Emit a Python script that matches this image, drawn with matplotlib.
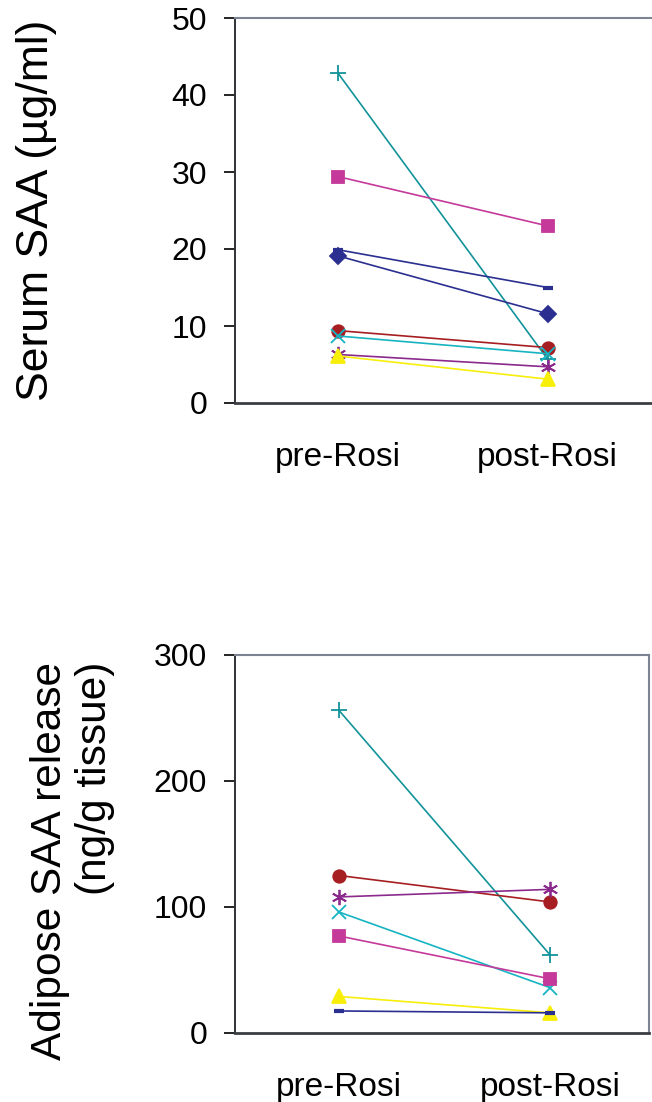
import matplotlib
matplotlib.use("Agg")
import matplotlib.pyplot as plt

plt.rcParams['font.family'] = ['Liberation Sans', 'DejaVu Sans']

groups = ['pre-Rosi', 'post-Rosi']

# serum SAA (ug/ml), one subject per series
serum_plus = [42.8, 5.7]
serum_square = [29.4, 23.0]
serum_dash = [19.9, 15.0]
serum_diamond = [19.1, 11.6]
serum_circle = [9.4, 7.2]
serum_x = [8.7, 6.4]
serum_star = [6.3, 4.7]
serum_tri = [6.1, 3.1]

# adipose SAA release (ng/g tissue)
adip_plus = [256, 62]
adip_circle = [125, 104]
adip_star = [108, 114]
adip_x = [96, 36]
adip_square = [77, 43]
adip_tri = [29, 16]
adip_dash = [17.5, 16]

teal = '#12939A'
magenta = '#C4399A'
navy = '#2B2F8F'
red = '#A61E22'
cyan = '#16B4C2'
purple = '#8B2A8C'
yellow = '#F7EE0A'

star = (6, 2, 0)

serum = [
    (serum_plus, teal, '+', 12),
    (serum_square, magenta, 's', 9),
    (serum_dash, navy, '_', 7),
    (serum_diamond, navy, 'D', 8),
    (serum_circle, red, 'o', 9),
    (serum_x, cyan, 'x', 10),
    (serum_star, purple, star, 11),
    (serum_tri, yellow, '^', 10),
]
adipose = [
    (adip_plus, teal, '+', 12),
    (adip_circle, red, 'o', 9),
    (adip_star, purple, star, 11),
    (adip_x, cyan, 'x', 10),
    (adip_square, magenta, 's', 9),
    (adip_tri, yellow, '^', 10),
    (adip_dash, navy, '_', 7),
]

fig = plt.figure(figsize=(6.52, 11.02), dpi=100)
ax1 = fig.add_axes([235 / 652, 1 - 403 / 1102, 1 - 235 / 652 + 0.01, 385 / 1102])
ax2 = fig.add_axes([235 / 652, 1 - 1033 / 1102, 414 / 652, 378 / 1102])


def draw(ax, series):
    x = range(len(groups))
    for vals, col, mk, ms in series:
        mew = 3 if mk == '_' else 1.3
        ax.plot(x, vals, color=col, lw=1.2, marker=mk, ms=ms,
                mfc=col, mec=col, mew=mew)
    ax.set_xticks(list(x))
    ax.set_xticklabels(groups, fontsize=24)
    ax.tick_params(axis='x', length=0, pad=28)
    ax.tick_params(axis='y', labelsize=23, length=8, width=1.2,
                   direction='out', pad=12)
    ax.spines['left'].set_color('#2E3236')
    ax.spines['left'].set_linewidth(1.4)
    ax.spines['bottom'].set_color('#3A3D42')
    ax.spines['bottom'].set_linewidth(2)
    ax.spines['top'].set_color('#7C8494')
    ax.spines['top'].set_linewidth(1.5)
    ax.spines['right'].set_color('#7C8494')
    ax.spines['right'].set_linewidth(1.5)


draw(ax1, serum)
ax1.set_xlim(-0.493, 1.53)
ax1.set_ylim(0, 50)
ax1.set_yticks([0, 10, 20, 30, 40, 50])
ax1.spines['right'].set_visible(False)
ax1.set_ylabel('Serum SAA (\u00b5g/ml)', fontsize=32)
ax1.yaxis.set_label_coords(-0.42, 0.5)

draw(ax2, adipose)
ax2.set_xlim(-0.493, 1.469)
ax2.set_ylim(0, 300)
ax2.set_yticks([0, 100, 200, 300])
ax2.set_ylabel('Adipose SAA release\n(ng/g tissue)', fontsize=30.5,
               multialignment='right', linespacing=1.15)
ax2.yaxis.set_label_coords(-0.29, 0.456)

fig.savefig('out.png', dpi=100)
